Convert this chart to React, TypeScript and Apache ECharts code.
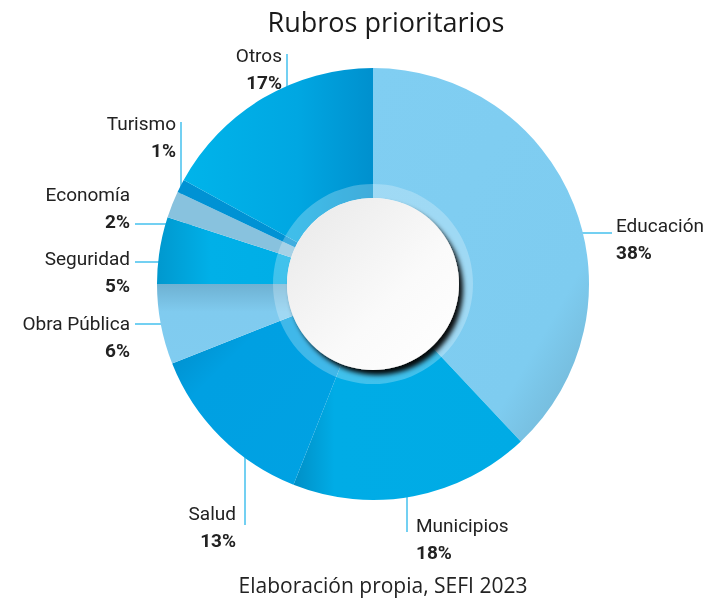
import React, { useEffect, useRef } from "react";
import * as echarts from "echarts";

const titleText = "Rubros prioritarios";
const sourceText = "Elaboración propia, SEFI 2023";
const names = ["Educación", "Municipios", "Salud", "Obra Pública", "Seguridad", "Economía", "Turismo", "Otros"];
const values = [38, 18, 13, 6, 5, 2, 1, 17];

const lg = (x2: number, y2: number, stops: [number, string][]) =>
  new echarts.graphic.LinearGradient(0, 0, x2, y2, stops.map(([offset, color]) => ({ offset, color })));

const sliceColors = [
  lg(1, 1, [[0, "#80CEF2"], [0.75, "#7ECCF0"], [1, "#6FAFCC"]]),
  lg(1, 0, [[0, "#008FC6"], [0.18, "#00ACE6"], [1, "#00ABE5"]]),
  lg(1, 1, [[0, "#0088C4"], [0.3, "#00A0E2"], [1, "#00A2E3"]]),
  lg(0, 1, [[0, "#6EB1D2"], [0.35, "#80CBEF"], [1, "#80CCF0"]]),
  lg(1, 0, [[0, "#0098CE"], [0.4, "#00B0E8"], [1, "#00AEE6"]]),
  "#88C2DE",
  "#0092D4",
  lg(1, 0, [[0, "#00B4EA"], [0.6, "#00A7E2"], [1, "#0090CE"]]),
];

// label layout (pixel positions of label blocks and leader lines)
const labelLayouts = [
  { x: 616, y: 212, align: "left", line: [[502, 233], [612, 233]] },
  { x: 416, y: 512, align: "left", line: [[407, 423], [407, 532]] },
  { x: 236, y: 500, align: "right", line: [[245, 415], [245, 525]] },
  { x: 130, y: 310, align: "right", line: [[210, 324], [135, 324]] },
  { x: 130, y: 245, align: "right", line: [[210, 262], [135, 262]] },
  { x: 130, y: 181, align: "right", line: [[210, 224], [135, 224]] },
  { x: 176, y: 110, align: "right", line: [[181, 196], [181, 122]] },
  { x: 282, y: 42, align: "right", line: [[287, 128], [287, 54]] },
];

const CENTER = [373, 284];

export default function App() {
  const ref = useRef<HTMLDivElement>(null);
  useEffect(() => {
    if (!ref.current) return;
    const chart = echarts.init(ref.current, undefined, { renderer: "svg" });
    const data = names.map((n, i) => ({
      name: n,
      value: values[i],
      itemStyle: { color: sliceColors[i] },
    }));
    chart.setOption({
      animation: false,
      title: [
        {
          text: titleText,
          left: 381,
          top: 3,
          textAlign: "center",
          textStyle: { fontFamily: "Open Sans", fontSize: 27, fontWeight: "normal", color: "#1a1a1a" },
        },
        {
          text: sourceText,
          left: 378,
          top: 569,
          textAlign: "center",
          textStyle: { fontFamily: "Open Sans", fontSize: 21, fontWeight: "normal", color: "#222" },
        },
      ],
      series: [
        {
          type: "pie",
          center: CENTER,
          radius: [86, 216],
          startAngle: 90,
          clockwise: true,
          silent: true,
          avoidLabelOverlap: false,
          data,
          itemStyle: { borderWidth: 0 },
          label: {
            show: true,
            position: "outside",
            formatter: (p: any) => `{n|${p.name}}\n{p|${p.value}%}`,
            rich: {
              n: { fontFamily: "Roboto", fontSize: 19, color: "#222", lineHeight: 27 },
              p: { fontFamily: "Roboto", fontSize: 19, fontWeight: "bold", color: "#222", lineHeight: 27 },
            },
          },
          labelLine: { show: true, lineStyle: { color: "#45C0EE", width: 1.5 } },
          labelLayout: (params: any) => {
            const l = labelLayouts[params.dataIndex];
            if (!l) return {};
            const [a, b] = l.line;
            return {
              x: l.x,
              y: l.y,
              align: l.align,
              verticalAlign: "top",
              labelLinePoints: [a, [(a[0] + b[0]) / 2, (a[1] + b[1]) / 2], b],
            };
          },
          emphasis: { disabled: true },
        },
        {
          type: "pie",
          center: CENTER,
          radius: [86, 100],
          silent: true,
          data: [{ value: 1, name: "ring" }],
          itemStyle: { color: "rgba(255,255,255,0.25)" },
          label: { show: false },
          labelLine: { show: false },
          emphasis: { disabled: true },
        },
        {
          type: "pie",
          center: CENTER,
          radius: [0, 86],
          silent: true,
          z: 5,
          data: [{ value: 1, name: "center" }],
          itemStyle: {
            color: lg(1, 1, [[0, "#E8E8E8"], [0.6, "#FAFAFA"], [1, "#FFFFFF"]]),
            shadowBlur: 5,
            shadowOffsetX: 4,
            shadowOffsetY: 5,
            shadowColor: "rgba(0,0,0,0.95)",
          },
          label: { show: false },
          labelLine: { show: false },
          emphasis: { disabled: true },
        },
      ],
    });
    return () => chart.dispose();
  }, []);
  return <div ref={ref} style={{ position: "fixed", left: 0, top: 0, width: 712, height: 600 }} />;
}
